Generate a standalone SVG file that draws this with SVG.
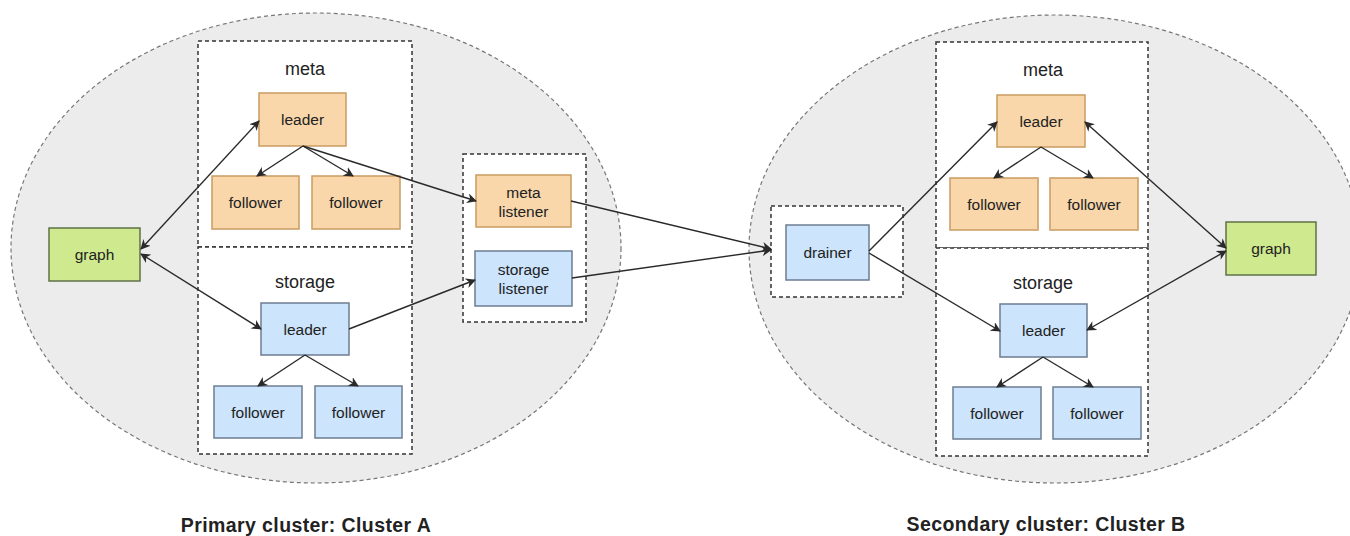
<svg xmlns="http://www.w3.org/2000/svg" width="1350" height="536" viewBox="0 0 1350 536">
<style>
text{font-family:"Liberation Sans",Arial,sans-serif;fill:#222;text-anchor:middle;dominant-baseline:central}
.n{font-size:15.5px}
.t{font-size:18px}
.cap{font-size:19.5px;font-weight:bold;letter-spacing:0.4px}
.cl{fill:#ececec;stroke:#777;stroke-width:1.2;stroke-dasharray:4 3}
.grp{fill:#fff;stroke:#333;stroke-width:1.5;stroke-dasharray:4 3}
.or{fill:#f9d7ab;stroke:#c99c62;stroke-width:1.5}
.bl{fill:#cce4fc;stroke:#6d7d91;stroke-width:1.5}
.gr{fill:#cfe98e;stroke:#5f7048;stroke-width:1.5}
.e{fill:none;stroke:#2a2a2a;stroke-width:1.4}
</style>
<defs>
<marker id="a" viewBox="0 0 10 10" refX="9" refY="5" markerWidth="10" markerHeight="10" markerUnits="userSpaceOnUse" orient="auto-start-reverse">
<path d="M0,0 L10,5 L0,10 L3,5 Z" fill="#2a2a2a"/>
</marker>
</defs>

<g id="clusterA">
<ellipse class="cl" cx="316" cy="248" rx="305" ry="235"/>
</g>
<g id="clusterB">
<ellipse class="cl" cx="1055" cy="249" rx="306" ry="234"/>
</g>

<g id="metaA"><rect class="grp" x="198" y="41" width="214" height="206"/><text class="t" x="305" y="69">meta</text></g>
<g id="storageA"><rect class="grp" x="198" y="247" width="214" height="207"/><text class="t" x="305" y="282">storage</text></g>
<g id="listeners"><rect class="grp" x="463" y="154" width="123" height="168"/></g>
<g id="drainerGroup"><rect class="grp" x="771" y="206" width="132" height="91"/></g>
<g id="metaB"><rect class="grp" x="936" y="42" width="212" height="206"/><text class="t" x="1043" y="70">meta</text></g>
<g id="storageB"><rect class="grp" x="936" y="248" width="212" height="208"/><text class="t" x="1043" y="283">storage</text></g>

<g id="graphA"><rect class="gr" x="49" y="228" width="91" height="53"/><text class="n" x="94.5" y="254.5">graph</text></g>
<g id="metaLeaderA"><rect class="or" x="259" y="93" width="87" height="53"/><text class="n" x="302.5" y="119.5">leader</text></g>
<g id="metaFollowerA1"><rect class="or" x="212" y="176" width="87" height="53"/><text class="n" x="255.5" y="202.5">follower</text></g>
<g id="metaFollowerA2"><rect class="or" x="312" y="176" width="88" height="53"/><text class="n" x="356" y="202.5">follower</text></g>
<g id="storageLeaderA"><rect class="bl" x="261" y="303" width="88" height="52"/><text class="n" x="305" y="329">leader</text></g>
<g id="storageFollowerA1"><rect class="bl" x="214" y="386" width="88" height="52"/><text class="n" x="258" y="412">follower</text></g>
<g id="storageFollowerA2"><rect class="bl" x="315" y="386" width="87" height="52"/><text class="n" x="358.5" y="412">follower</text></g>
<g id="metaListener"><rect class="or" x="476" y="175" width="95" height="52"/><text class="n" x="523.5" y="192">meta</text><text class="n" x="523.5" y="211">listener</text></g>
<g id="storageListener"><rect class="bl" x="475" y="251" width="97" height="55"/><text class="n" x="523.5" y="269">storage</text><text class="n" x="523.5" y="288">listener</text></g>

<g id="drainer"><rect class="bl" x="786" y="225" width="83" height="55"/><text class="n" x="827.5" y="252.5">drainer</text></g>
<g id="metaLeaderB"><rect class="or" x="997" y="95" width="88" height="52"/><text class="n" x="1041" y="121">leader</text></g>
<g id="metaFollowerB1"><rect class="or" x="950" y="178" width="88" height="52"/><text class="n" x="994" y="204">follower</text></g>
<g id="metaFollowerB2"><rect class="or" x="1050" y="178" width="88" height="52"/><text class="n" x="1094" y="204">follower</text></g>
<g id="storageLeaderB"><rect class="bl" x="1000" y="304" width="87" height="53"/><text class="n" x="1043.5" y="330.5">leader</text></g>
<g id="storageFollowerB1"><rect class="bl" x="953" y="387" width="88" height="52"/><text class="n" x="997" y="413">follower</text></g>
<g id="storageFollowerB2"><rect class="bl" x="1053" y="387" width="88" height="52"/><text class="n" x="1097" y="413">follower</text></g>
<g id="graphB"><rect class="gr" x="1226" y="222" width="90" height="53"/><text class="n" x="1271" y="248.5">graph</text></g>

<g id="captions">
<text class="cap" x="306" y="525">Primary cluster: Cluster A</text>
<text class="cap" x="1046" y="524">Secondary cluster: Cluster B</text>
</g>

<g id="connectors">
<line class="e" x1="141" y1="249" x2="259" y2="121" marker-start="url(#a)" marker-end="url(#a)"/>
<line class="e" x1="141" y1="254" x2="261" y2="329" marker-start="url(#a)" marker-end="url(#a)"/>
<line class="e" x1="303" y1="146" x2="257" y2="176" marker-end="url(#a)"/>
<line class="e" x1="303" y1="146" x2="353" y2="176" marker-end="url(#a)"/>
<line class="e" x1="303" y1="146" x2="476" y2="201" marker-end="url(#a)"/>
<line class="e" x1="305" y1="355" x2="258" y2="386" marker-end="url(#a)"/>
<line class="e" x1="305" y1="355" x2="358" y2="386" marker-end="url(#a)"/>
<line class="e" x1="349" y1="329" x2="475" y2="280" marker-end="url(#a)"/>
<line class="e" x1="571" y1="201" x2="771" y2="249" marker-end="url(#a)"/>
<line class="e" x1="572" y1="278" x2="771" y2="250" marker-end="url(#a)"/>
<line class="e" x1="869" y1="251" x2="997" y2="122" marker-end="url(#a)"/>
<line class="e" x1="869" y1="253" x2="1000" y2="331" marker-end="url(#a)"/>
<line class="e" x1="1041" y1="147" x2="994" y2="178" marker-end="url(#a)"/>
<line class="e" x1="1041" y1="147" x2="1093" y2="178" marker-end="url(#a)"/>
<line class="e" x1="1043" y1="357" x2="997" y2="387" marker-end="url(#a)"/>
<line class="e" x1="1043" y1="357" x2="1093" y2="387" marker-end="url(#a)"/>
<line class="e" x1="1226" y1="248" x2="1085" y2="122" marker-start="url(#a)" marker-end="url(#a)"/>
<line class="e" x1="1226" y1="251" x2="1087" y2="330" marker-start="url(#a)" marker-end="url(#a)"/>
</g>
</svg>
